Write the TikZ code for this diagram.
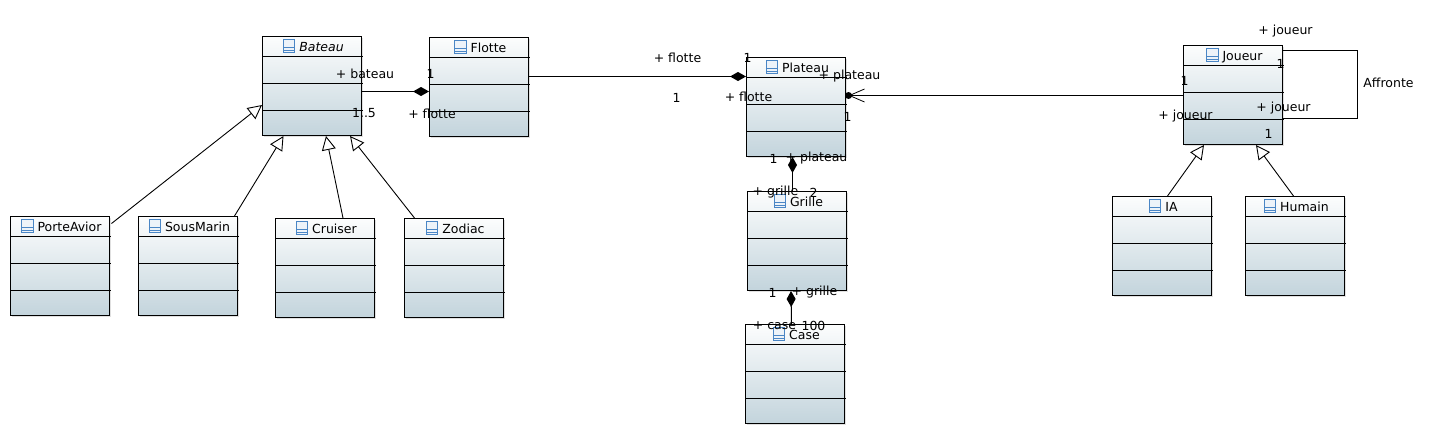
\documentclass[tikz,border=0pt]{standalone}
\usepackage{fontspec}
\setmainfont{DejaVu Sans}
\usetikzlibrary{positioning}
\usetikzlibrary{arrows.meta}
\definecolor{classtop}{HTML}{FCFDFD}
\definecolor{classbottom}{HTML}{C3D4DC}
\definecolor{iconblue}{HTML}{4A86C5}
\tikzset{
    classbox/.style = {draw, line width=1pt, anchor=north west, minimum width=99pt, minimum height=99pt, inner sep=0pt, top color=classtop, bottom color=classbottom},
    classline/.style = {line width=0.9pt},
    classtitle/.style = {inner sep=0pt, text height=11pt, text depth=1pt, font=\fontsize{12.5}{12.5}\selectfont},
    classicon/.style = {draw=iconblue, line width=0.8pt, fill=white!90!iconblue, minimum width=11.5pt, minimum height=13.5pt, inner sep=0pt,
        path picture={\draw[iconblue, line width=0.8pt] ([yshift=-1.5pt]path picture bounding box.west) -- ([yshift=-1.5pt]path picture bounding box.east)
            ([yshift=-4pt]path picture bounding box.west) -- ([yshift=-4pt]path picture bounding box.east);}},
    rolelabel/.style = {inner sep=0pt, xshift=1pt, yshift=1pt, font=\fontsize{12.5}{12.5}\selectfont},
    assoc/.style = {line width=1pt},
    compo/.style = {line width=1pt, -{Diamond[length=16pt, width=9pt, fill=black]}},
    inherit/.style = {line width=0.9pt, -{Triangle[length=14pt, width=14pt, fill=white]}},
    navig/.style = {line width=1pt, -{Straight Barb[length=15pt, width=13pt, line width=0.8pt]}},
    navdot/.style = {circle, fill=black, minimum size=7pt, inner sep=0pt},
}
% --- One UML class: name, left, top, printed title
\newcommand\umlclass[4]{
    \fill[black!12] (#2+1.5,#3+1.5) rectangle ++(99,99);
    \node[classbox] (#1) at (#2,#3) {};
    \draw[classline] ([yshift=-20pt]#1.north west) -- ([xshift=1pt,yshift=-20pt]#1.north east);
    \draw[classline] ([yshift=-47pt]#1.north west) -- ([xshift=1pt,yshift=-47pt]#1.north east);
    \draw[classline] ([yshift=-74pt]#1.north west) -- ([xshift=1pt,yshift=-74pt]#1.north east);
    \node[classtitle] (#1Title) at ([xshift=9.5pt,yshift=-10pt]#1.north) {#4};
    \node[classicon, left=4pt of #1Title] (#1Icon) {};
}
\begin{document}
\begin{tikzpicture}[x=1pt,y=-1pt]
    \useasboundingbox (0.5,0.5) rectangle (1435.5,434.5);
    % --- Classes
    \umlclass{Bateau}{262.5}{36.5}{\textit{Bateau}}
    \umlclass{Flotte}{429.5}{37.5}{Flotte}
    \umlclass{Plateau}{746.5}{57.5}{Plateau}
    \umlclass{Grille}{747.5}{191.5}{Grille}
    \umlclass{Case}{745.5}{324.5}{Case}
    \umlclass{Joueur}{1183.5}{45.5}{Joueur}
    \umlclass{IA}{1112.5}{196.5}{IA}
    \umlclass{Humain}{1245.5}{196.5}{Humain}
    \umlclass{PorteAvior}{10.5}{216.5}{PorteAvior}
    \umlclass{SousMarin}{138.5}{216.5}{SousMarin}
    \umlclass{Cruiser}{275.5}{218.5}{Cruiser}
    \umlclass{Zodiac}{404.5}{218.5}{Zodiac}
    % --- Compositions
    \draw[compo] ([yshift=-5.5pt]Bateau.east) -- ([yshift=-4.5pt]Flotte.west);
    \draw[compo] ([yshift=10.5pt]Flotte.east) -- ([yshift=30.5pt]Plateau.west);
    \draw[compo] ([xshift=-4.5pt]Grille.north) -- ([xshift=-3.5pt]Plateau.south);
    \draw[compo] ([xshift=-3.5pt]Case.north) -- ([xshift=-6pt]Grille.south);
    % --- Navigation
    \node[navdot] (PlateauDot) at (849,96) {};
    \draw[navig] ([yshift=-0.5pt]Joueur.west) -- (PlateauDot.center);
    % --- Self association
    \draw[assoc] ([yshift=45pt]Joueur.east) -- ++(74,0) -- ++(0,68) -- ([yshift=-23pt]Joueur.east);
    % --- Inheritance
    \draw[inherit] ([shift={(1.5pt,-7.5pt)}]PorteAvior.north east) -- ([yshift=-19pt]Bateau.west);
    \draw[inherit] ([xshift=-3.5pt]SousMarin.north east) -- ([xshift=-28.5pt]Bateau.south);
    \draw[inherit] ([xshift=18pt]Cruiser.north) -- ([xshift=14pt]Bateau.south);
    \draw[inherit] ([xshift=-39.5pt]Zodiac.north) -- ([xshift=38pt]Bateau.south);
    \draw[inherit] ([xshift=5.5pt]IA.north) -- ([xshift=-29pt]Joueur.south);
    \draw[inherit] ([xshift=-1.5pt]Humain.north) -- ([xshift=23pt]Joueur.south);
    % --- Role labels
    \node[rolelabel] (roleBateau) at (364.5,75) {+ bateau};
    \node[rolelabel] (multFlotteA) at (430,75) {1};
    \node[rolelabel] (multBateau) at (363.5,115) {1..5};
    \node[rolelabel] (roleFlotteA) at (431.5,115) {+ flotte};
    \node[rolelabel] (roleFlotteB) at (677,59) {+ flotte};
    \node[rolelabel] (multPlateauA) at (747,59) {1};
    \node[rolelabel] (multFlotteB) at (676,99) {1};
    \node[rolelabel] (roleFlotteC) at (748,98) {+ flotte};
    \node[rolelabel] (rolePlateauA) at (849,78) {+ plateau};
    \node[rolelabel] (multPlateauB) at (847,118) {1};
    \node[rolelabel] (multPlateauC) at (773,160) {1};
    \node[rolelabel] (rolePlateauB) at (816,160) {+ plateau};
    \node[rolelabel] (roleGrilleA) at (775,194) {+ grille};
    \node[rolelabel] (multGrilleA) at (813,194) {2};
    \node[rolelabel] (multGrilleB) at (772,294) {1};
    \node[rolelabel] (roleGrilleB) at (814,294) {+ grille};
    \node[rolelabel] (roleCase) at (774,327) {+ case};
    \node[rolelabel] (multCase) at (813,327) {100};
    \node[rolelabel] (roleJoueurA) at (1285,33) {+ joueur};
    \node[rolelabel] (multJoueurA) at (1280,65) {1};
    \node[rolelabel] (multJoueurB) at (1184,82) {1};
    \node[rolelabel] (roleJoueurB) at (1185,118) {+ joueur};
    \node[rolelabel] (roleJoueurC) at (1283,110) {+ joueur};
    \node[rolelabel] (multJoueurC) at (1268,135) {1};
    \node[rolelabel] (labelAffronte) at (1388,84) {Affronte};
\end{tikzpicture}
\end{document}
